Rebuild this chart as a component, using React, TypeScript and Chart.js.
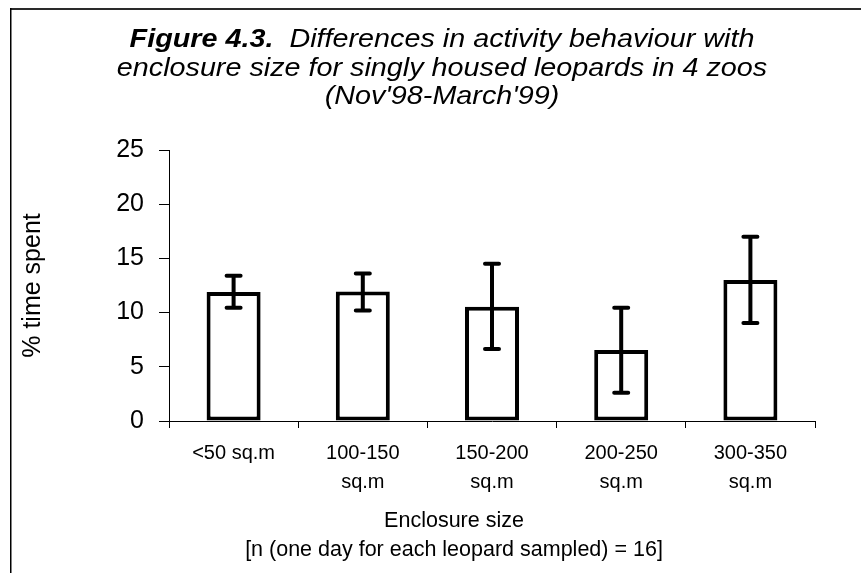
import React, { useEffect, useRef } from 'react';
import { Chart, registerables } from 'chart.js';

Chart.register(...registerables);

// ---- data ----
const categories: (string | string[])[] = [
  '<50 sq.m',
  ['100-150', 'sq.m'],
  ['150-200', 'sq.m'],
  ['200-250', 'sq.m'],
  ['300-350', 'sq.m'],
];
const meanTimeSpent = [11.9, 11.95, 10.55, 6.55, 13.0];
const errorHigh = [13.4, 13.6, 14.5, 10.45, 17.0];
const errorLow = [10.45, 10.2, 6.65, 2.6, 9.05];
const yTickValues = [0, 5, 10, 15, 20, 25];

const titleBold = 'Figure 4.3.';
const titleRest = 'Differences in activity behaviour with';
const titleLine2 = 'enclosure size for singly housed leopards in 4 zoos';
const titleLine3 = "(Nov'98-March'99)";
const yAxisTitle = '% time spent';
const xAxisTitle = 'Enclosure size';
const xAxisNote = '[n (one day for each leopard sampled) = 16]';

const FONT = '"Liberation Sans", Arial, Helvetica, sans-serif';

const framePlugin = {
  id: 'frame',
  beforeDraw(chart: any) {
    const { ctx, width, height } = chart;
    ctx.save();
    ctx.fillStyle = '#ffffff';
    ctx.fillRect(0, 0, width, height);
    ctx.fillStyle = '#2a2a2a';
    ctx.fillRect(10, 8, width - 10, 2);
    ctx.fillStyle = '#000000';
    ctx.fillRect(10, 8, 1.5, height - 8);
    ctx.restore();
  },
};

const errorBarPlugin = {
  id: 'errorBars',
  afterDatasetsDraw(chart: any) {
    const { ctx } = chart;
    const meta = chart.getDatasetMeta(0);
    const yScale = chart.scales.y;
    ctx.save();
    ctx.strokeStyle = '#000';
    ctx.lineWidth = 4;
    ctx.lineCap = 'round';
    meta.data.forEach((bar: any, i: number) => {
      const x = bar.x;
      const yh = yScale.getPixelForValue(errorHigh[i]);
      const yl = yScale.getPixelForValue(errorLow[i]);
      const half = 7;
      ctx.beginPath();
      ctx.moveTo(x, yh);
      ctx.lineTo(x, yl);
      ctx.moveTo(x - half, yh);
      ctx.lineTo(x + half, yh);
      ctx.moveTo(x - half, yl);
      ctx.lineTo(x + half, yl);
      ctx.stroke();
    });
    ctx.restore();
  },
};

const textPlugin = {
  id: 'texts',
  afterDraw(chart: any) {
    const { ctx } = chart;
    ctx.save();
    ctx.fillStyle = '#000';
    ctx.textBaseline = 'alphabetic';
    ctx.textAlign = 'left';
    const cx = 442;
    const sx = 1.15;

    // line 1 (mixed fonts)
    const boldFont = `italic bold 25px ${FONT}`;
    const italFont = `italic 25px ${FONT}`;
    ctx.font = boldFont;
    const wb = ctx.measureText(titleBold).width;
    ctx.font = italFont;
    const gap = ctx.measureText('  ').width;
    const wi = ctx.measureText(titleRest).width;
    const total = (wb + gap + wi) * sx;
    ctx.save();
    ctx.translate(cx - total / 2, 47);
    ctx.scale(sx, 1);
    ctx.font = boldFont;
    ctx.fillText(titleBold, 0, 0);
    ctx.font = italFont;
    ctx.fillText(titleRest, wb + gap, 0);
    ctx.restore();

    const drawCentered = (text: string, y: number) => {
      ctx.font = italFont;
      const w = ctx.measureText(text).width * sx;
      ctx.save();
      ctx.translate(cx - w / 2, y);
      ctx.scale(sx, 1);
      ctx.fillText(text, 0, 0);
      ctx.restore();
    };
    drawCentered(titleLine2, 75.7);
    drawCentered(titleLine3, 104.4);

    // x-axis titles
    ctx.font = `21.5px ${FONT}`;
    ctx.textAlign = 'center';
    ctx.fillText(xAxisTitle, 454, 527.3);
    ctx.fillText(xAxisNote, 454, 555.5);
    ctx.restore();
  },
};

export default function App() {
  const canvasRef = useRef<HTMLCanvasElement | null>(null);

  useEffect(() => {
    if (!canvasRef.current) return;
    const chart = new Chart(canvasRef.current, {
      type: 'bar',
      data: {
        labels: categories as any,
        datasets: [
          {
            data: meanTimeSpent,
            backgroundColor: '#ffffff',
            borderColor: '#000000',
            borderWidth: 4,
            borderSkipped: false,
            categoryPercentage: 1,
            barPercentage: 0.418,
          },
        ],
      },
      options: {
        responsive: false,
        animation: false,
        events: [],
        layout: { padding: { left: 12, right: 46, top: 150, bottom: 0 } },
        plugins: {
          legend: { display: false },
          title: { display: false },
          tooltip: { enabled: false },
        },
        scales: {
          x: {
            grid: {
              display: true,
              drawOnChartArea: false,
              drawTicks: true,
              tickLength: 7,
              color: '#000',
              lineWidth: 1,
              offset: true,
            },
            border: { display: true, color: '#000', width: 1 },
            ticks: {
              color: '#000',
              font: { family: FONT, size: 20, lineHeight: 1.45 },
              padding: 10.5,
              maxRotation: 0,
              autoSkip: false,
            },
            afterFit: (s: any) => {
              s.height = 152;
            },
          },
          y: {
            min: 0,
            max: 25,
            afterBuildTicks: (s: any) => {
              s.ticks = yTickValues.map((v) => ({ value: v }));
            },
            grid: {
              display: true,
              drawOnChartArea: false,
              drawTicks: true,
              tickLength: 10,
              color: '#000',
              lineWidth: 1,
            },
            border: { display: true, color: '#000', width: 1 },
            ticks: {
              color: '#000',
              font: { family: FONT, size: 25 },
              padding: 15,
            },
            title: {
              display: true,
              text: yAxisTitle,
              color: '#000',
              font: { family: FONT, size: 25 },
              padding: { top: 6, bottom: 0 },
            },
            afterFit: (s: any) => {
              s.width = 157;
            },
          },
        },
      } as any,
      plugins: [framePlugin, errorBarPlugin, textPlugin],
    });
    return () => chart.destroy();
  }, []);

  return (
    <div style={{ position: 'absolute', left: 0, top: 0, width: 861, height: 573, background: '#fff' }}>
      <canvas ref={canvasRef} width={861} height={573} style={{ display: 'block', width: 861, height: 573 }} />
    </div>
  );
}
